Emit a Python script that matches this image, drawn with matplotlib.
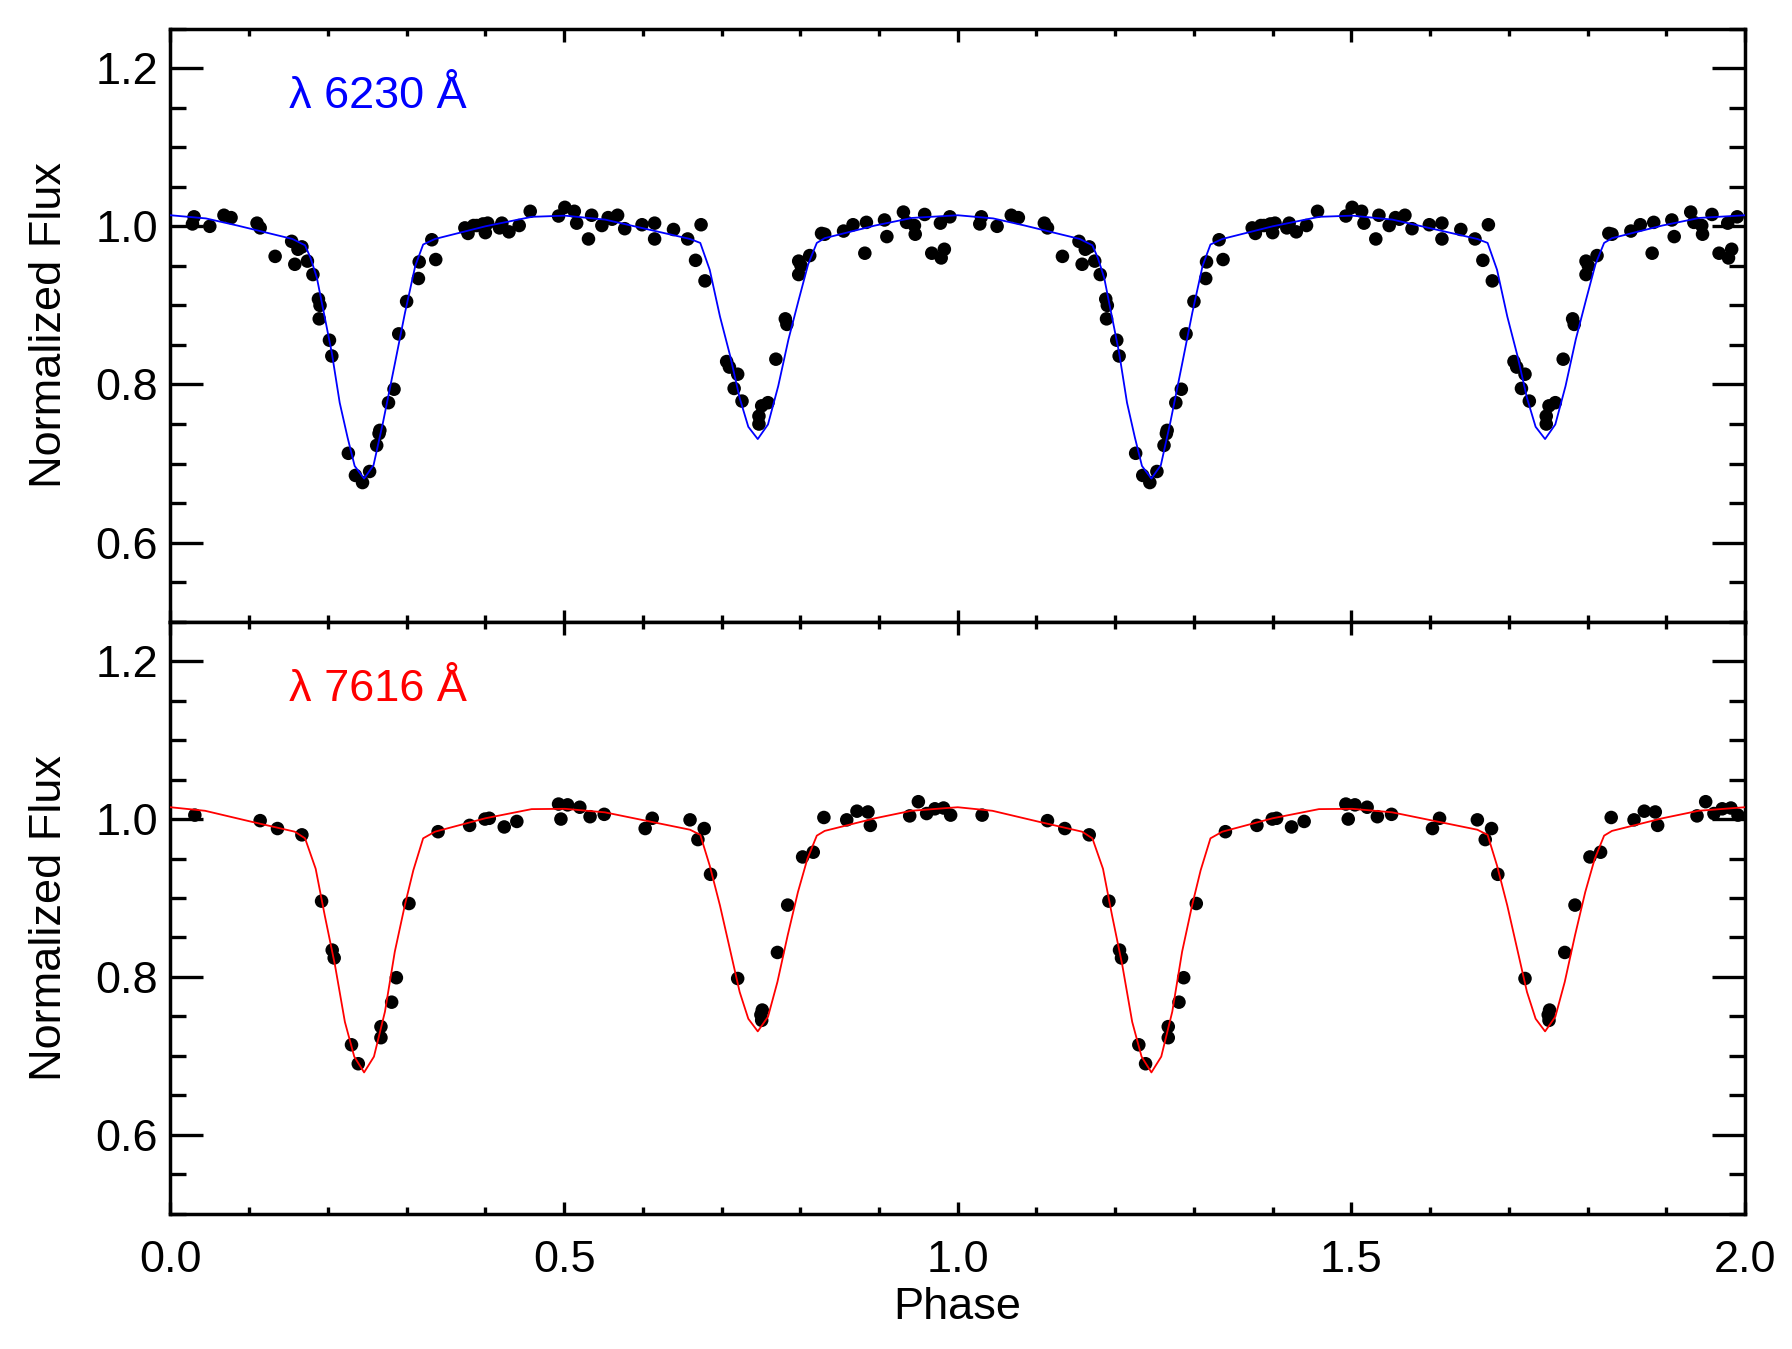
import numpy as np
import matplotlib
matplotlib.use('Agg')
import matplotlib.pyplot as plt
from matplotlib.ticker import MultipleLocator

plt.rcParams['font.family'] = ['Liberation Sans', 'DejaVu Sans']
plt.rcParams['font.size'] = 32.5

# phase-folded data, one cycle; shown twice (phase and phase + 1)
phase_6230 = [0.028, 0.030, 0.050, 0.068, 0.077, 0.110, 0.114, 0.133, 0.154, 0.158,
              0.162, 0.167, 0.174, 0.181, 0.188, 0.190, 0.189, 0.202, 0.205, 0.226,
              0.235, 0.244, 0.253, 0.262, 0.265, 0.266, 0.277, 0.284, 0.290, 0.300,
              0.315, 0.316, 0.332, 0.337, 0.374, 0.376, 0.378, 0.385, 0.389, 0.397,
              0.400, 0.403, 0.418, 0.421, 0.430, 0.443, 0.457, 0.493, 0.501, 0.513,
              0.516, 0.531, 0.535, 0.548, 0.556, 0.561, 0.568, 0.577, 0.599, 0.615,
              0.615, 0.639, 0.657, 0.674, 0.667, 0.679, 0.7065, 0.710, 0.716, 0.7205,
              0.726, 0.7475, 0.7475, 0.751, 0.759, 0.769, 0.781, 0.783, 0.798, 0.798,
              0.801, 0.812, 0.827, 0.831, 0.855, 0.867, 0.882, 0.884, 0.907, 0.910,
              0.931, 0.935, 0.945, 0.946, 0.958, 0.967, 0.979, 0.983, 0.978, 0.990]
flux_6230 = [1.003, 1.012, 1.000, 1.014, 1.011, 1.004, 0.998, 0.962, 0.981, 0.952,
             0.971, 0.974, 0.956, 0.939, 0.908, 0.900, 0.883, 0.856, 0.836, 0.713,
             0.685, 0.676, 0.690, 0.723, 0.738, 0.742, 0.777, 0.794, 0.864, 0.905,
             0.934, 0.955, 0.983, 0.958, 0.998, 0.996, 0.991, 1.001, 1.001, 1.003,
             0.992, 1.004, 0.998, 1.004, 0.993, 1.001, 1.019, 1.013, 1.024, 1.019,
             1.004, 0.984, 1.014, 1.001, 1.011, 1.009, 1.014, 0.997, 1.002, 1.004,
             0.984, 0.996, 0.984, 1.002, 0.957, 0.931, 0.829, 0.822, 0.795, 0.813,
             0.779, 0.760, 0.750, 0.773, 0.777, 0.832, 0.883, 0.876, 0.956, 0.939,
             0.950, 0.963, 0.991, 0.990, 0.994, 1.002, 0.966, 1.005, 1.008, 0.987,
             1.018, 1.005, 1.001, 0.990, 1.015, 0.966, 0.960, 0.971, 1.004, 1.012]

phase_7616 = [0.031, 0.114, 0.136, 0.167, 0.192, 0.2055, 0.208, 0.230, 0.2386, 0.2674,
              0.2674, 0.281, 0.287, 0.303, 0.340, 0.380, 0.3995, 0.405, 0.424, 0.440,
              0.493, 0.496, 0.5045, 0.520, 0.533, 0.551, 0.603, 0.612, 0.660, 0.678,
              0.670, 0.686, 0.7205, 0.7517, 0.751, 0.750, 0.771, 0.784, 0.803, 0.8165,
              0.830, 0.859, 0.872, 0.886, 0.889, 0.939, 0.950, 0.9605, 0.971, 0.982,
              0.991]
flux_7616 = [1.005, 0.998, 0.988, 0.980, 0.896, 0.834, 0.824, 0.714, 0.690, 0.737,
             0.723, 0.768, 0.799, 0.893, 0.984, 0.992, 1.000, 1.001, 0.990, 0.997,
             1.019, 1.000, 1.018, 1.015, 1.003, 1.006, 0.988, 1.001, 0.999, 0.988,
             0.974, 0.930, 0.798, 0.758, 0.745, 0.752, 0.831, 0.891, 0.952, 0.958,
             1.002, 0.999, 1.010, 1.009, 0.992, 1.004, 1.022, 1.007, 1.013, 1.014,
             1.005]

# model light curves, one cycle
model_phase_6230 = [0.000, 0.045, 0.085, 0.155, 0.171, 0.178, 0.186, 0.205, 0.215, 0.225,
                    0.234, 0.246, 0.258, 0.270, 0.285, 0.298, 0.311, 0.321, 0.336, 0.400,
                    0.459, 0.501, 0.552, 0.660, 0.673, 0.685, 0.698, 0.711, 0.723, 0.734,
                    0.746, 0.759, 0.772, 0.785, 0.798, 0.810, 0.821, 0.831, 0.895, 0.942,
                    1.000]
model_6230 = [1.014, 1.010, 1.001, 0.984, 0.976, 0.960, 0.935, 0.840, 0.777, 0.733,
              0.697, 0.681, 0.698, 0.752, 0.826, 0.891, 0.950, 0.977, 0.984, 1.000,
              1.012, 1.0135, 1.0085, 0.984, 0.979, 0.945, 0.886, 0.836, 0.783, 0.7465,
              0.731, 0.7495, 0.798, 0.857, 0.907, 0.952, 0.979, 0.985, 1.001, 1.0106,
              1.014]

model_phase_7616 = [0.000, 0.044, 0.103, 0.158, 0.171, 0.1845, 0.196, 0.209, 0.2216, 0.2335,
                    0.246, 0.2585, 0.2725, 0.285, 0.298, 0.3085, 0.321, 0.336, 0.400, 0.4588,
                    0.501, 0.552, 0.660, 0.673, 0.685, 0.698, 0.711, 0.723, 0.734, 0.746,
                    0.759, 0.771, 0.784, 0.797, 0.809, 0.821, 0.831, 0.895, 0.941, 0.980,
                    1.000]
model_7616 = [1.015, 1.0105, 0.9966, 0.984, 0.9756, 0.937, 0.878, 0.815, 0.743, 0.699,
              0.679, 0.699, 0.756, 0.832, 0.892, 0.935, 0.9756, 0.984, 1.001, 1.0126,
              1.013, 1.0085, 0.9865, 0.980, 0.941, 0.8905, 0.8336, 0.781, 0.747, 0.731,
              0.7495, 0.7937, 0.8526, 0.9074, 0.9495, 0.979, 0.985, 1.001, 1.0105, 1.0135,
              1.015]

panels = [
    ('\u03bb 6230 \u00c5', 'blue', phase_6230, flux_6230, model_phase_6230, model_6230),
    ('\u03bb 7616 \u00c5', 'red', phase_7616, flux_7616, model_phase_7616, model_7616),
]


def two_cycles(x, y):
  x = np.asarray(x)
  y = np.asarray(y)
  return np.concatenate([x, x + 1.0]), np.concatenate([y, y])


fig = plt.figure(figsize=(17.92, 13.49), dpi=100, facecolor='white')
boxes = [[0.0951, 0.5391, 0.8787, 0.4397], [0.0951, 0.1003, 0.8787, 0.4388]]

for i, (label, color, ph, fl, mph, mfl) in enumerate(panels):
  ax = fig.add_axes(boxes[i])
  x, y = two_cycles(ph, fl)
  ax.scatter(x, y, s=95, color='black', edgecolors='none', zorder=2)
  mx, my = two_cycles(mph, mfl)
  ax.plot(mx, my, color=color, lw=1.3, zorder=3)

  ax.set_xlim(0, 2.0)
  ax.set_ylim(0.5, 1.25)
  ax.xaxis.set_major_locator(MultipleLocator(0.5))
  ax.xaxis.set_minor_locator(MultipleLocator(0.1))
  ax.yaxis.set_major_locator(MultipleLocator(0.2))
  ax.yaxis.set_minor_locator(MultipleLocator(0.05))
  ax.yaxis.set_major_formatter(plt.FuncFormatter(lambda v, p: f'{v:.1f}' if v > 0.55 else ''))
  ax.xaxis.set_major_formatter(plt.FuncFormatter(lambda v, p: f'{v:.1f}'))

  ax.tick_params(which='both', direction='in', top=True, right=True, width=2.4, color='black')
  ax.tick_params(axis='y', which='major', length=23.5, pad=9)
  ax.tick_params(axis='y', which='minor', length=11.5)
  ax.tick_params(axis='x', which='major', length=9, pad=19)
  ax.tick_params(axis='x', which='minor', length=5)
  for sp in ax.spines.values():
    sp.set_linewidth(2.5)

  ax.set_ylabel('Normalized Flux', labelpad=18)
  ax.text(0.15, 1.15, label, color=color, fontsize=32.5, va='baseline', ha='left')

  if i == 0:
    ax.tick_params(axis='x', labelbottom=False)
  else:
    ax.set_xlabel('Phase', labelpad=4)

fig.savefig('out.png', dpi=100, facecolor='white')
